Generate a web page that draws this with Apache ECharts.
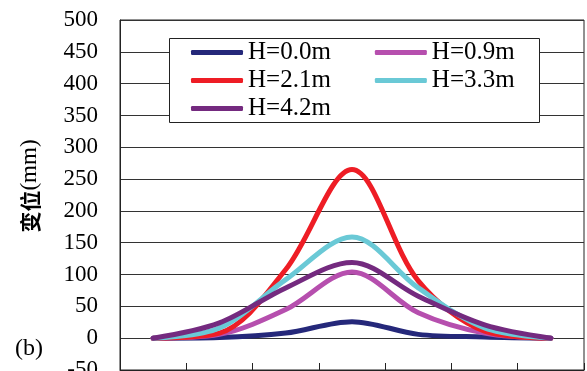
<!DOCTYPE html>
<html><head><meta charset="utf-8">
<script src="https://cdn.jsdelivr.net/npm/echarts@6/dist/echarts.min.js"></script>
<style>html,body{margin:0;padding:0;background:#fff}#c{width:587px;height:371px}</style>
</head><body><div id="c"></div>
<script>
const categories = ['1','2','3','4','5','6','7'];
const seriesNames = ['H=0.0m','H=0.9m','H=2.1m','H=3.3m','H=4.2m'];
const h00 = [0, 1, 8, 26, 6, 2, 0];
const h09 = [0, 6, 45, 104, 40, 8, 0];
const h21 = [0, 8, 108, 265, 90, 11, 0];
const h33 = [0, 16, 92, 159, 79, 16, 0];
const h42 = [0, 24, 79, 119, 66, 21, 0];
const yMin = -50, yMax = 500, yStep = 50;
const colors = ['#25287a', '#b64fae', '#ee1d25', '#6ac9d6', '#742a7f'];
const values = [h00, h09, h21, h33, h42];

const chart = echarts.init(document.getElementById('c'), null, {renderer: 'canvas'});
const serif = 'Liberation Serif';
const legendText = {fontFamily: serif, fontSize: 25, color: '#000'};
function mkLegend(data, top) {
  return {data: data, left: 191, top: top, orient: 'horizontal', itemWidth: 52, itemHeight: 5,
    itemGap: 44, textStyle: legendText, padding: 0, z: 10, selectedMode: false,
    icon: 'roundRect'};
}
chart.setOption({
  animation: false,
  grid: {left: 120, right: 3, top: 20, bottom: 1, show: true, borderColor: '#222', borderWidth: 1,
    containLabel: false, outerBoundsMode: 'none'},
  graphic: [
    {type: 'rect', shape: {x: 169.5, y: 38.5, width: 370, height: 84}, style: {fill: '#fff', stroke: '#222', lineWidth: 1}, z: 5},
    {type: 'text', x: 15, y: 349, style: {text: '(b)', font: '24px ' + serif, fill: '#000', textVerticalAlign: 'middle'}, z: 5},
    {type: 'text', x: 30, y: 186, rotation: Math.PI / 2,
      style: {text: '{a|变位}{b|(mm)}', textAlign: 'center', textVerticalAlign: 'middle',
        rich: {a: {fontFamily: 'Noto Sans CJK SC', fontWeight: 'bold', fontSize: 21, fill: '#000'},
               b: {fontFamily: serif, fontSize: 23, fill: '#000'}}}, z: 5}
  ],
  legend: [
    mkLegend(['H=0.0m', 'H=0.9m'], 40),
    mkLegend(['H=2.1m', 'H=3.3m'], 68),
    mkLegend(['H=4.2m'], 96)
  ],
  xAxis: {type: 'category', data: categories, boundaryGap: true,
    axisLine: {onZero: false, lineStyle: {color: '#222', width: 1}},
    axisTick: {show: true, inside: true, length: 7, interval: 0, lineStyle: {color: '#222', width: 1}},
    axisLabel: {show: false}, splitLine: {show: false}},
  yAxis: {type: 'value', min: yMin, max: yMax, interval: yStep,
    axisLine: {show: true, lineStyle: {color: '#222'}},
    axisTick: {show: false},
    axisLabel: {fontFamily: serif, fontSize: 23, color: '#000', margin: 22},
    splitLine: {lineStyle: {color: '#333', width: 1}}},
  series: seriesNames.map((n, i) => ({
    name: n, type: 'line', data: values[i], smooth: 0.33, symbol: 'none',
    lineStyle: {color: colors[i], width: 5, cap: 'round'}, itemStyle: {color: colors[i]}
  }))
});
</script></body></html>
